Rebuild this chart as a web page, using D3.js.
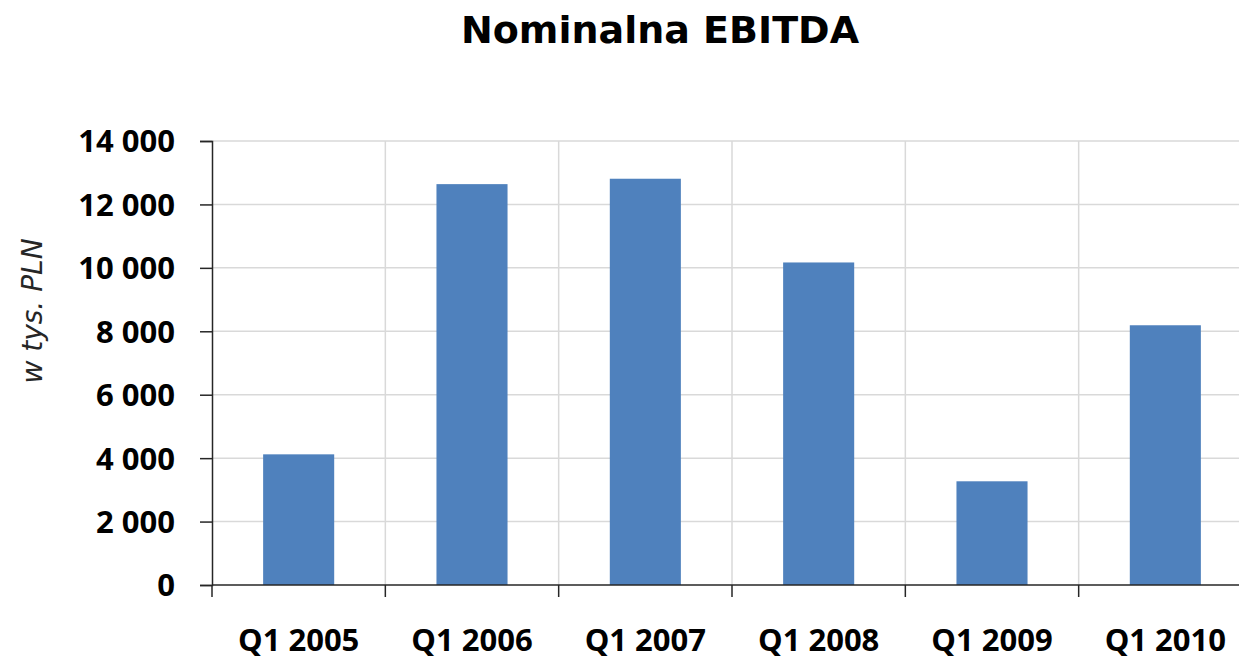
<!DOCTYPE html>
<html>
<head>
<meta charset="utf-8">
<script src="https://cdn.jsdelivr.net/npm/d3@7"></script>
<style>
  body { margin: 0; background: #fff; }
  svg { display: block; }
</style>
</head>
<body>
<div id="chart"></div>
<script>
// data
let categories = ["Q1 2005", "Q1 2006", "Q1 2007", "Q1 2008", "Q1 2009", "Q1 2010"];
let ebitda = [4120, 12640, 12810, 10170, 3270, 8190];
let yTicks = [0, 2000, 4000, 6000, 8000, 10000, 12000, 14000];

// dimensions (plot area runs slightly past the right edge, like the original)
let margin = {top: 141, right: -13, bottom: 76, left: 212},
    width = 1239 - margin.left - margin.right,
    height = 661 - margin.top - margin.bottom;

let x = d3.scaleBand()
    .domain(categories)
    .range([0, width])
    .paddingInner(0)
    .paddingOuter(0);
let y = d3.scaleLinear()
    .domain([0, 14000])
    .range([height, 0]);

let pl = d3.formatLocale({decimal: ",", thousands: "\u00a0", grouping: [3], currency: ["", " zł"]});
let fmt = pl.format(",.0f");

let svg = d3.select("#chart").append("svg")
    .attr("width", 1239)
    .attr("height", 661);

let g = svg.append("g")
    .attr("transform", "translate(" + margin.left + "," + margin.top + ")");

// title
svg.append("text")
    .attr("x", 660)
    .attr("y", 43)
    .attr("text-anchor", "middle")
    .style("font-family", "'DejaVu Sans', Verdana, sans-serif")
    .style("font-weight", "bold")
    .style("font-size", "38px")
    .attr("fill", "#000")
    .text("Nominalna EBITDA");

// horizontal gridlines
g.append("g")
    .selectAll("line")
    .data(yTicks.slice(1))
    .enter().append("line")
    .attr("x1", 0).attr("x2", width)
    .attr("y1", d => y(d)).attr("y2", d => y(d))
    .attr("stroke", "#d9d9d9")
    .attr("stroke-width", 1.5);

// vertical gridlines at category boundaries
g.append("g")
    .selectAll("line")
    .data(categories.slice(1))
    .enter().append("line")
    .attr("x1", d => x(d)).attr("x2", d => x(d))
    .attr("y1", 0).attr("y2", height)
    .attr("stroke", "#d9d9d9")
    .attr("stroke-width", 1.5);

// bars
let bw = x.bandwidth() * 0.41;
g.selectAll(".bar")
    .data(categories)
    .enter().append("rect")
    .attr("class", "bar")
    .attr("x", d => x(d) + (x.bandwidth() - bw) / 2)
    .attr("width", bw)
    .attr("y", (d, i) => y(ebitda[i]))
    .attr("height", (d, i) => height - y(ebitda[i]))
    .attr("fill", "#4f81bd");

// y-axis
let yAxis = g.append("g")
    .call(d3.axisLeft(y).tickValues(yTicks).tickFormat(fmt).tickSize(12).tickPadding(25));
yAxis.select(".domain").attr("stroke", "#262626").attr("stroke-width", 1.5);
yAxis.selectAll(".tick line").attr("stroke", "#262626").attr("stroke-width", 1.5);
yAxis.selectAll("text")
    .style("font-family", "'Open Sans', sans-serif")
    .style("font-weight", "bold")
    .style("font-size", "31px")
    .attr("fill", "#000")
    .attr("x", -37)
    .attr("dy", "0.35em");

// x-axis line and boundary ticks
g.append("line")
    .attr("x1", 0).attr("x2", width)
    .attr("y1", height).attr("y2", height)
    .attr("stroke", "#262626")
    .attr("stroke-width", 1.5);
g.append("g")
    .selectAll("line")
    .data(categories)
    .enter().append("line")
    .attr("x1", d => x(d)).attr("x2", d => x(d))
    .attr("y1", height).attr("y2", height + 12)
    .attr("stroke", "#262626")
    .attr("stroke-width", 1.5);

// x labels
g.append("g")
    .selectAll("text")
    .data(categories)
    .enter().append("text")
    .attr("x", d => x(d) + x.bandwidth() / 2)
    .attr("y", height + 66)
    .attr("text-anchor", "middle")
    .style("font-family", "'Open Sans', sans-serif")
    .style("font-weight", "bold")
    .style("font-size", "31px")
    .attr("fill", "#000")
    .text(d => d);

// y-axis title
svg.append("text")
    .attr("transform", "translate(42," + (margin.top + 170) + ") rotate(-90)")
    .attr("text-anchor", "middle")
    .style("font-family", "'DejaVu Sans', Verdana, sans-serif")
    .style("font-style", "italic")
    .style("font-size", "28px")
    .attr("fill", "#262626")
    .text("w tys. PLN");
</script>
</body>
</html>
